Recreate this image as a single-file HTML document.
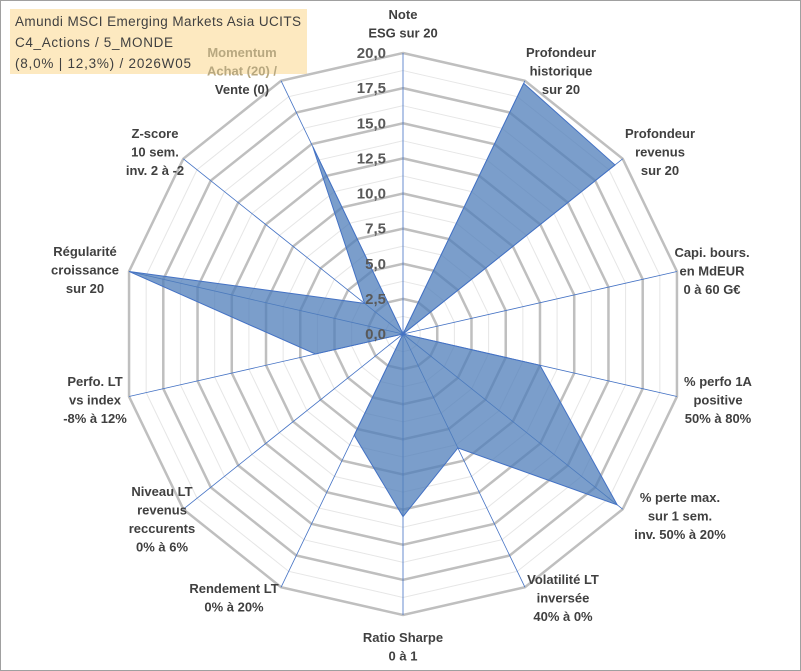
<!DOCTYPE html>
<html><head><meta charset="utf-8"><style>
body{margin:0;background:#fff}
svg{display:block;font-family:"Liberation Sans",sans-serif}
.lb{font-size:13px;font-weight:bold;fill:#404040}
</style></head><body>
<svg id="c" width="801" height="671">
<rect x="0.5" y="0.5" width="800" height="670" fill="#fff" stroke="#a0a0a0"/>
<rect x="10" y="9" width="297" height="65" fill="#fde9c0"/>
<text x="15" y="26" font-size="13.5" fill="#404040" textLength="286">Amundi MSCI Emerging Markets Asia UCITS</text>
<text x="15" y="47" font-size="13.5" fill="#404040" textLength="158">C4_Actions / 5_MONDE</text>
<text x="15" y="68" font-size="13.5" fill="#404040" textLength="176">(8,0% | 12,3%) / 2026W05</text>
<g id="grid"></g><g id="series"></g><g id="labels"></g>
</svg>
<script>
const categories=["Note|ESG sur 20","Profondeur|historique|sur 20","Profondeur|revenus|sur 20","Capi. bours.|en MdEUR|0 à 60 G€","% perfo 1A|positive|50% à 80%","% perte max.|sur 1 sem.|inv. 50% à 20%","Volatilité LT|inversée|40% à 0%","Ratio Sharpe|0 à 1","Rendement LT|0% à 20%","Niveau LT|revenus|reccurents|0% à 6%","Perfo. LT|vs index|-8% à 12%","Régularité|croissance|sur 20","Z-score|10 sem.|inv. 2 à -2","Momentum|Achat (20) /|Vente (0)"];
const values=[0,19.8,19.3,0,10,19.5,9,13,8,0,6.4,20,3.5,14.8];
const tickLabels=["0,0","2,5","5,0","7,5","10,0","12,5","15,0","17,5","20,0"];
const maxV=20;
const labelPos=[[403,19],[561,57],[660,138],[712,257],[718,386],[680,502],[563,584],[403,642],[234,593],[162,496],[95,386],[85,256],[155,138],[242,57]];
const cx=403,cy=334,R=281,n=categories.length,NS="http://www.w3.org/2000/svg";
function ang(i){return i*2*Math.PI/n;}
function pt(i,v){const r=v/maxV*R;return [cx+r*Math.sin(ang(i)),cy-r*Math.cos(ang(i))];}
function mk(t,a,p){const e=document.createElementNS(NS,t);for(const k in a)e.setAttribute(k,a[k]);p.appendChild(e);return e;}
const g=document.getElementById('grid');
for(let k=1;k<=16;k++){const v=k*1.25;const pts=categories.map((c,i)=>pt(i,v).join(',')).join(' ');
const e=mk('polygon',{points:pts,fill:'none',stroke:k%2==0?'#bfbfbf':'#e6e6e6','stroke-width':k%2==0?2.5:1},g);

}
categories.forEach((c,i)=>{const p=pt(i,maxV);const e=mk('line',{x1:cx,y1:cy,x2:p[0],y2:p[1],stroke:'#4472c4','stroke-width':0.8},g);

});
const s=document.getElementById('series');
const poly=mk('polygon',{points:values.map((v,i)=>pt(i,v).join(',')).join(' '),fill:'rgba(79,125,186,0.75)',stroke:'#4472c4','stroke-width':1},s);


const L=document.getElementById('labels');
tickLabels.forEach((t,k)=>{const y=cy-k*2.5/maxV*R;const e=mk('text',{x:386,y:y+5,'text-anchor':'end','font-size':15,'font-weight':'bold',fill:'#595959'},L);e.textContent=t;

});
categories.forEach((c,i)=>{const lines=c.split('|');const x=labelPos[i][0],y0=labelPos[i][1];
const e=mk('text',{'text-anchor':'middle'},L);e.setAttribute('class','lb');
lines.forEach((ln,j)=>{const t=mk('tspan',{x:x,y:y0+j*18.5},e);t.textContent=ln;
if(i==categories.length-1&&j<2)t.setAttribute('fill','#b8a880');});

});
</script>
</body></html>
